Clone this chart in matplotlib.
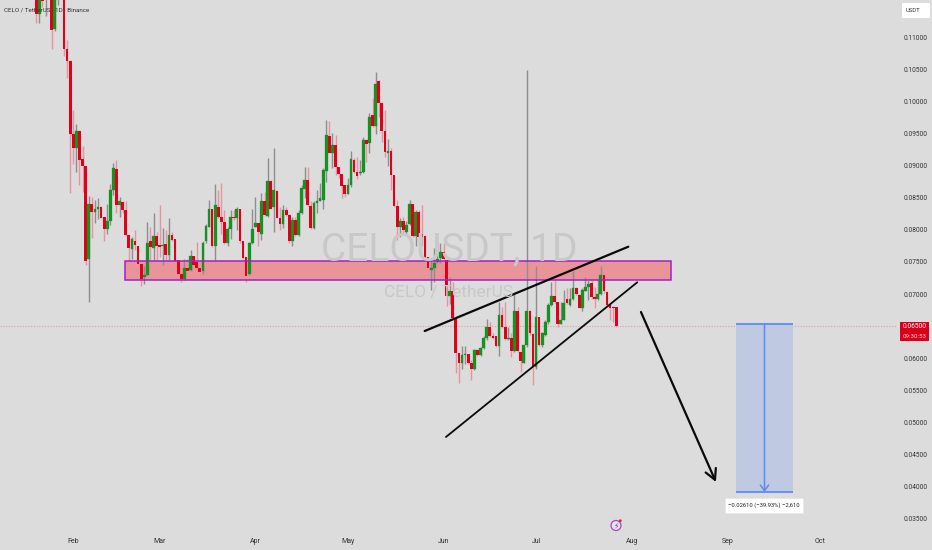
import numpy as np
import matplotlib
matplotlib.use("Agg")
import matplotlib.pyplot as plt
from matplotlib.patches import Rectangle, Circle

plt.rcParams['font.family'] = ['Roboto', 'DejaVu Sans']

# daily candles, one block per month, Jan 20 -> Jul 27
opens = [
    .1190, .1136, .1190, .1160, .1200, .1200, .1112, .1170, .1200, .1195, .1081, .1062,
    .0949, .0928, .0954, .0910, .0899, .0755, .0840, .0828, .0832, .0835, .0820, .0801, .0813, .0862,
    .0895, .0839, .0843, .0831, .0792, .0770, .0782, .0775, .0747, .0726, .0730, .0782, .0772, .0790,
    .0776, .0775, .0778, .0761, .0792, .0786, .0753, .0731, .0723, .0741, .0737, .0759, .0750, .0740, .0736, .0782,
    .0805, .0833, .0774, .0836, .0820, .0812, .0779, .0801, .0820, .0818, .0832, .0782, .0757, .0731, .0779,
    .0805, .0811, .0794, .0844, .0822, .0876, .0835, .0861, .0819, .0809, .0830, .0823, .0783, .0815, .0792,
    .0826, .0863, .0877, .0837, .0802, .0842, .0845, .0847, .0892, .0946, .0920, .0932, .0898, .0887, .0869,
    .0856, .0869, .0909, .0890, .0888, .0890, .0940, .0935, .0978, .0962, .1032, .0997, .0953, .0920, .0922, .0885,
    .0837, .0805, .0813, .0797, .0809, .0840, .0790, .0827, .0794, .0790, .0757, .0738, .0740, .0750, .0756,
    .0766, .0753, .0697, .0705, .0662, .0608, .0592, .0605, .0607, .0592, .0583, .0613, .0605, .0616, .0631,
    .0649, .0635, .0635, .0619, .0667, .0648, .0630, .0631, .0612, .0674, .0610, .0593, .0620, .0673, .0638,
    .0586, .0664, .0621, .0636, .0657, .0683, .0697, .0687, .0654, .0660, .0692, .0683, .0692, .0710,
    .0699, .0679, .0705, .0711, .0717, .0696, .0692, .0700, .0730, .0703, .0683, .0680, .0680,
]
highs = [
    .1200, .1200, .1195, .1190, .1205, .1210, .1205, .1210, .1215, .1200, .1095, .1064,
    .0987, .0965, .0956, .0931, .0900, .0852, .0851, .0846, .0849, .0837, .0820, .0840, .0871, .0904,
    .0909, .0851, .0844, .0844, .0792, .0788, .0800, .0775, .0747, .0743, .0812, .0805, .0826, .0797,
    .0839, .0802, .0800, .0819, .0797, .0786, .0753, .0731, .0754, .0755, .0769, .0759, .0781, .0748, .0782, .0809,
    .0846, .0833, .0871, .0862, .0873, .0831, .0805, .0831, .0831, .0836, .0832, .0782, .0757, .0781, .0833,
    .0851, .0811, .0857, .0859, .0911, .0877, .0928, .0862, .0836, .0839, .0836, .0825, .0820, .0820, .0830,
    .0870, .0897, .0897, .0844, .0844, .0862, .0873, .0896, .0971, .0969, .0950, .0948, .0898, .0887, .0869,
    .0880, .0923, .0911, .0913, .0909, .0945, .0941, .0982, .1005, .1046, .1033, .0999, .0986, .0941, .0927, .0885,
    .0846, .0818, .0820, .0813, .0846, .0840, .0830, .0831, .0839, .0792, .0757, .0753, .0771, .0783, .0780,
    .0779, .0753, .0726, .0719, .0664, .0608, .0619, .0619, .0607, .0597, .0614, .0614, .0618, .0634, .0661,
    .0657, .0640, .0635, .0688, .0680, .0687, .0648, .0639, .0700, .0680, .0610, .0620, .1049, .0675, .0639,
    .0744, .0664, .0641, .0660, .0686, .0719, .0724, .0687, .0687, .0706, .0709, .0709, .0736, .0711,
    .0700, .0709, .0727, .0722, .0722, .0711, .0723, .0744, .0731, .0704, .0683, .0681, .0680,
]
lows = [
    .1122, .1122, .1147, .1132, .1170, .1082, .1110, .1150, .1170, .1070, .1036, .0857,
    .0903, .0890, .0870, .0858, .0745, .0688, .0787, .0811, .0816, .0819, .0782, .0794, .0807, .0854,
    .0826, .0820, .0826, .0791, .0748, .0754, .0769, .0727, .0713, .0716, .0729, .0753, .0753, .0722,
    .0758, .0745, .0735, .0753, .0783, .0750, .0727, .0719, .0722, .0735, .0736, .0745, .0739, .0731, .0731, .0779,
    .0804, .0773, .0753, .0819, .0794, .0778, .0774, .0786, .0815, .0800, .0780, .0754, .0718, .0730, .0778,
    .0804, .0774, .0784, .0822, .0820, .0832, .0796, .0818, .0800, .0802, .0822, .0780, .0775, .0791, .0791,
    .0825, .0849, .0837, .0801, .0801, .0826, .0844, .0833, .0875, .0919, .0896, .0885, .0880, .0849, .0851,
    .0855, .0867, .0889, .0879, .0886, .0889, .0906, .0920, .0960, .0949, .0976, .0937, .0914, .0899, .0862, .0836,
    .0784, .0789, .0794, .0792, .0807, .0789, .0774, .0776, .0774, .0753, .0732, .0706, .0719, .0748, .0748,
    .0753, .0681, .0685, .0661, .0577, .0561, .0584, .0591, .0591, .0566, .0582, .0603, .0603, .0614, .0628,
    .0633, .0630, .0618, .0604, .0647, .0628, .0628, .0602, .0610, .0610, .0579, .0592, .0618, .0636, .0558,
    .0584, .0619, .0618, .0634, .0654, .0681, .0686, .0648, .0653, .0659, .0685, .0681, .0691, .0699,
    .0678, .0673, .0704, .0691, .0693, .0678, .0691, .0699, .0702, .0681, .0659, .0657, .0648,
]
closes = [
    .1136, .1185, .1156, .1175, .1180, .1111, .1195, .1195, .1190, .1081, .1062, .0949,
    .0928, .0953, .0909, .0899, .0752, .0840, .0828, .0832, .0835, .0819, .0801, .0814, .0862, .0896,
    .0839, .0844, .0830, .0792, .0771, .0785, .0776, .0747, .0724, .0730, .0780, .0773, .0790, .0775,
    .0773, .0777, .0760, .0792, .0784, .0752, .0731, .0723, .0741, .0736, .0759, .0745, .0740, .0735, .0780, .0806,
    .0833, .0774, .0839, .0820, .0812, .0779, .0801, .0820, .0818, .0833, .0782, .0756, .0728, .0779, .0801,
    .0811, .0796, .0844, .0823, .0876, .0833, .0862, .0819, .0809, .0831, .0823, .0782, .0815, .0792, .0826,
    .0865, .0877, .0839, .0802, .0842, .0845, .0849, .0893, .0948, .0920, .0932, .0897, .0887, .0868, .0855,
    .0869, .0910, .0890, .0884, .0890, .0940, .0933, .0976, .0962, .1027, .0997, .0953, .0921, .0922, .0885, .0837,
    .0805, .0813, .0799, .0807, .0840, .0790, .0827, .0789, .0788, .0756, .0740, .0741, .0749, .0755, .0766,
    .0754, .0697, .0705, .0662, .0608, .0592, .0605, .0607, .0592, .0583, .0613, .0605, .0616, .0631, .0648,
    .0634, .0631, .0619, .0667, .0648, .0630, .0632, .0612, .0674, .0611, .0595, .0620, .0673, .0639, .0587,
    .0664, .0621, .0639, .0657, .0683, .0697, .0688, .0654, .0660, .0686, .0686, .0692, .0710, .0700,
    .0679, .0706, .0711, .0716, .0695, .0693, .0700, .0730, .0704, .0683, .0679, .0679, .0650,
]
first_day = -12  # x is days after Feb 1

month_days = [0, 28, 59, 89, 120, 150, 181, 212, 242]
month_labels = ['Feb', 'Mar', 'Apr', 'May', 'Jun', 'Jul', 'Aug', 'Sep', 'Oct']
price_ticks = [.035, .04, .045, .05, .055, .06, .07, .075, .08, .085, .09, .095, .10, .105, .11]

last_price = .0650
zone_days = [16.8, 193.8]
zone_prices = [.0722, .0751]
upper_days = [113.9, 179.9]
upper_prices = [.06424, .07736]
lower_days = [120.8, 182.8]
lower_prices = [.04775, .07182]
arrow_days = [184.0, 208.3]
arrow_prices = [.0672, .04075]
measure_days = [214.8, 233.3]
measure_prices = [.0653, .0392]

BG = '#dcdcdc'
RED = '#e0001a'
GREEN = '#0c9a1a'
W, H = 932, 550


def fx(px):
    return px / W


def fy(px):
    return 1 - px / H


fig = plt.figure(figsize=(W / 100, H / 100), dpi=100, facecolor=BG)
ax = fig.add_axes([0, fy(530), fx(897), fy(0) - fy(530)])
ax.patch.set_visible(False)
ax.set_xlim(-23.76, 267.0)
ax.set_ylim(.03327, .11576)
for s in ax.spines.values():
    s.set_visible(False)

# watermark
fig.text(fx(449), fy(250), 'CELOUSDT, 1D', ha='center', va='center', fontsize=28, color='#c8c8c8', zorder=0.5)
fig.text(fx(449), fy(292), 'CELO / TetherUS', ha='center', va='center', fontsize=12.5, color='#c8c8c8', zorder=0.5)

# zone
ax.add_patch(Rectangle((zone_days[0], zone_prices[0]), zone_days[1] - zone_days[0], zone_prices[1] - zone_prices[0],
                       facecolor='#e89498', edgecolor='none', zorder=2))
ax.add_patch(Rectangle((zone_days[0], zone_prices[0]), zone_days[1] - zone_days[0], zone_prices[1] - zone_prices[0],
                       facecolor='none', edgecolor='#a51fc4', lw=1.1, zorder=5))

# candles
days = first_day + np.arange(len(opens))
o = np.array(opens)
h = np.array(highs)
l = np.array(lows)
c = np.array(closes)
up = c >= o
ax.vlines(days[up], l[up], h[up], color='#8e8e8e', lw=1.0, zorder=3)
ax.vlines(days[~up], l[~up], h[~up], color='#e8949e', lw=1.0, zorder=3)
ax.bar(days[up], (c - o)[up], bottom=o[up], width=0.88, color=GREEN, edgecolor='#3c6e40', lw=0.2, zorder=4)
ax.bar(days[~up], (o - c)[~up], bottom=c[~up], width=0.88, color=RED, edgecolor='none', zorder=4)

# last price line
ax.axhline(last_price, color='#d9a0a2', lw=0.8, ls=(0, (1, 1.5)), zorder=2)

# drawings
ax.plot(upper_days, upper_prices, color='#0a0a0a', lw=1.6, zorder=6, solid_capstyle='round')
ax.plot(lower_days, lower_prices, color='#0a0a0a', lw=1.3, zorder=6, solid_capstyle='round')
ax.annotate('', xy=(arrow_days[1], arrow_prices[1]), xytext=(arrow_days[0], arrow_prices[0]),
            arrowprops=dict(arrowstyle='->,head_length=0.75,head_width=0.4', color='#0a0a0a', lw=1.6,
                            shrinkA=0, shrinkB=0), zorder=6)

# measure tool
ax.add_patch(Rectangle((measure_days[0], measure_prices[1]), measure_days[1] - measure_days[0],
                       measure_prices[0] - measure_prices[1], facecolor='#bfc9e2', edgecolor='none', zorder=2))
ax.hlines(measure_prices, measure_days[0], measure_days[1], color='#5b8cf5', lw=1.3, zorder=6)
measure_mid = sum(measure_days) / 2
ax.annotate('', xy=(measure_mid, measure_prices[1]), xytext=(measure_mid, measure_prices[0]),
            arrowprops=dict(arrowstyle='->,head_length=0.4,head_width=0.3', color='#5b8cf5', lw=1.1,
                            shrinkA=0, shrinkB=0), zorder=6)
fig.patches.append(Rectangle((fx(725), fy(513)), fx(78), fy(498) - fy(513), transform=fig.transFigure,
                             facecolor='white', edgecolor='#e8e8e8', lw=0.5, zorder=6))
fig.text(fx(764), fy(505.5), '\u22120.02610 (\u221239.93%) \u22122,610', ha='center', va='center',
         fontsize=4.2, color='#222222', zorder=7)

# axes
ax.set_xticks(month_days)
ax.set_xticklabels(month_labels)
ax.set_yticks(price_ticks)
ax.set_yticklabels(['%.5f' % p for p in price_ticks])
ax.yaxis.tick_right()
ax.tick_params(axis='y', length=0, pad=4.5, labelsize=4.7, labelcolor='#333333')
ax.tick_params(axis='x', length=0, pad=6, labelsize=5, labelcolor='#333333')

# header and right side tags
fig.text(fx(4), fy(10), 'CELO / TetherUS \u00b7 1D \u00b7 Binance', ha='left', va='center',
         fontsize=4.5, color='#333333', zorder=8)
fig.patches.append(Rectangle((fx(902), fy(18)), fx(28), fy(3) - fy(18), transform=fig.transFigure,
                             facecolor='white', edgecolor='none', zorder=6))
fig.text(fx(912.5), fy(10.5), 'USDT', ha='center', va='center', fontsize=4.2, color='#333333', zorder=7)
fig.patches.append(Rectangle((fx(900), fy(341)), fx(29), fy(322) - fy(341), transform=fig.transFigure,
                             facecolor='#d8001a', edgecolor='none', zorder=6))
fig.text(fx(914.5), fy(327), '%.5f' % last_price, ha='center', va='center', fontsize=4.7, color='white', zorder=7)
fig.text(fx(914.5), fy(336), '09:30:53', ha='center', va='center', fontsize=4.4, color='#f8d0d4', zorder=7)

# small flash icon near the time axis
fig.patches.append(Circle((616, H - 525.5), 5, transform=None, facecolor='#e6e2ea', edgecolor='#a44ac4', lw=0.9, zorder=6))
fig.patches.append(Circle((620.3, H - 520.7), 1.4, transform=None, facecolor='#e8202a', edgecolor='none', zorder=7))
fig.text(fx(616), fy(525.5), '\u26a1', ha='center', va='center', fontsize=5.5, color='#8a2fc0',
         family=['DejaVu Sans'], zorder=8)

fig.savefig('out.png', dpi=100, facecolor=BG)
